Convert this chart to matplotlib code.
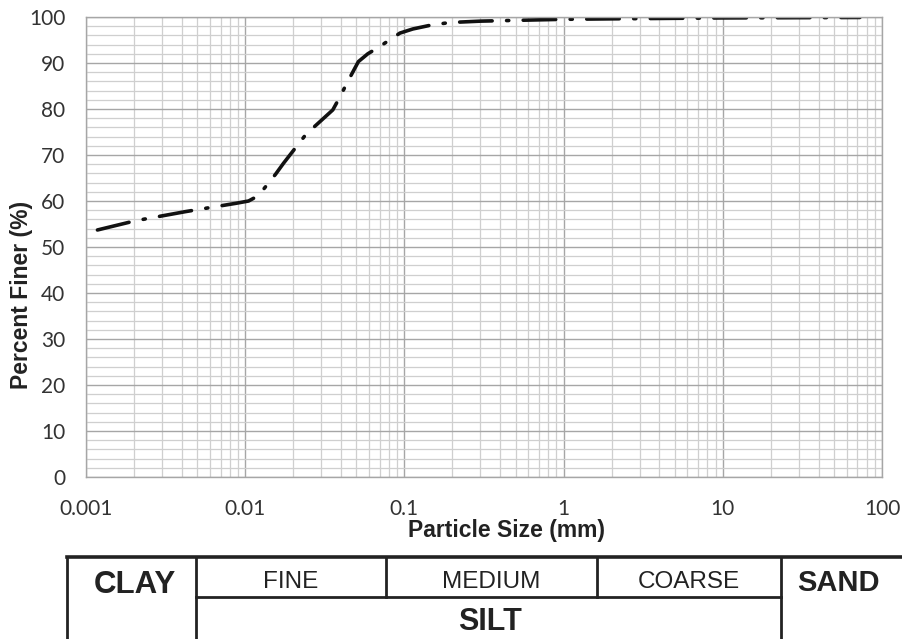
import numpy as np
import matplotlib
matplotlib.use("Agg")
from matplotlib import pyplot as plt
from matplotlib.ticker import FixedLocator, NullFormatter

# data
size_mm = [0.00118, 0.00204, 0.00423, 0.00875, 0.0105, 0.0113, 0.013, 0.0155,
           0.0174, 0.0241, 0.0355, 0.0396, 0.0435, 0.0514, 0.0589, 0.068,
           0.0937, 0.113, 0.15, 0.194, 0.3, 1.0, 2.0, 10.0, 72.6]
percent_finer = [53.7, 55.7, 57.7, 59.5, 60.0, 60.6, 62.5, 65.8,
                 68.2, 74.5, 79.8, 82.8, 85.6, 90.3, 92.0, 93.3,
                 96.5, 97.4, 98.3, 98.8, 99.1, 99.5, 99.6, 99.8, 99.9]
x_ticks = [0.001, 0.01, 0.1, 1, 10, 100]
x_tick_labels = ["0.001", "0.01", "0.1", "1", "10", "100"]
y_ticks = [0, 10, 20, 30, 40, 50, 60, 70, 80, 90, 100]
silt_labels = ["FINE", "MEDIUM", "COARSE"]

W, H = 902, 639
fig = plt.figure(figsize=(W / 100, H / 100), dpi=100)
ax = fig.add_axes([86 / W, 1 - 477 / H, (882 - 86) / W, (477 - 17) / H])

ax.set_xscale("log")
ax.set_xlim(0.001, 100)
ax.set_ylim(0, 100)

# grid
minor_x = [m * 10.0 ** e for e in range(-3, 2) for m in range(2, 10)]
ax.xaxis.set_minor_locator(FixedLocator(minor_x))
ax.xaxis.set_minor_formatter(NullFormatter())
ax.yaxis.set_minor_locator(FixedLocator([v for v in range(0, 101, 2) if v % 10]))
ax.grid(True, which="major", color="#a6a6a6", linewidth=1.0)
ax.grid(True, which="minor", color="#cfcfcf", linewidth=0.9)
ax.set_axisbelow(True)
for sp in ax.spines.values():
    sp.set_color("#a6a6a6")
    sp.set_linewidth(1.0)

ax.set_xticks(x_ticks)
ax.set_xticklabels(x_tick_labels)
ax.set_yticks(y_ticks)
ax.tick_params(which="both", length=0)
ax.tick_params(axis="x", pad=16, labelsize=15, labelcolor="#333333")
ax.tick_params(axis="y", pad=15, labelsize=15, labelcolor="#333333")
for lab in ax.get_xticklabels() + ax.get_yticklabels():
    lab.set_family(["Lato", "DejaVu Sans"])

ax.plot(size_mm, percent_finer, color="#111111", linewidth=2.6,
        dashes=(9, 4, 0.6, 4), dash_capstyle="round", solid_capstyle="round")

fig.text(506 / W, 1 - 531 / H, "Particle Size (mm)", ha="center", va="center",
         fontsize=16.5, fontweight="bold", family=["Liberation Sans", "DejaVu Sans"], color="#222222")
fig.text(22 / W, 1 - 295 / H, "Percent Finer (%)", ha="center", va="center", rotation=90,
         fontsize=16.5, fontweight="bold", family=["Liberation Sans", "DejaVu Sans"], color="#222222")

# soil classification table (pixel coords)
tb = fig.add_axes([0, 0, 1, 1], facecolor="none")
tb.set_xlim(0, W)
tb.set_ylim(H, 0)
tb.axis("off")
lw = 2.0
lc = "#222222"
tb.plot([67, W + 5], [557, 557], color=lc, lw=2.6)
tb.plot([67, 67], [557, H + 5], color=lc, lw=lw)
for xv in [196, 781]:
    tb.plot([xv, xv], [557, H + 5], color=lc, lw=lw)
for xv in [386, 597]:
    tb.plot([xv, xv], [557, 597], color=lc, lw=lw)
tb.plot([196, 781], [597, 597], color=lc, lw=lw)

sans = ["Liberation Sans", "DejaVu Sans"]
tb.text(135, 585, "CLAY", ha="center", va="center", fontsize=22.5, fontweight="bold", family=sans, color=lc)
tb.text(838, 583, "SAND", ha="center", va="center", fontsize=21, fontweight="bold", family=sans, color=lc)
tb.text(490, 622, "SILT", ha="center", va="center", fontsize=22, fontweight="bold", family=sans, color=lc)
for xc, s in zip([291, 491, 689], silt_labels):
    tb.text(xc, 582, s, ha="center", va="center", fontsize=17.5, family=sans, color=lc)

fig.savefig("out.png", dpi=100)
